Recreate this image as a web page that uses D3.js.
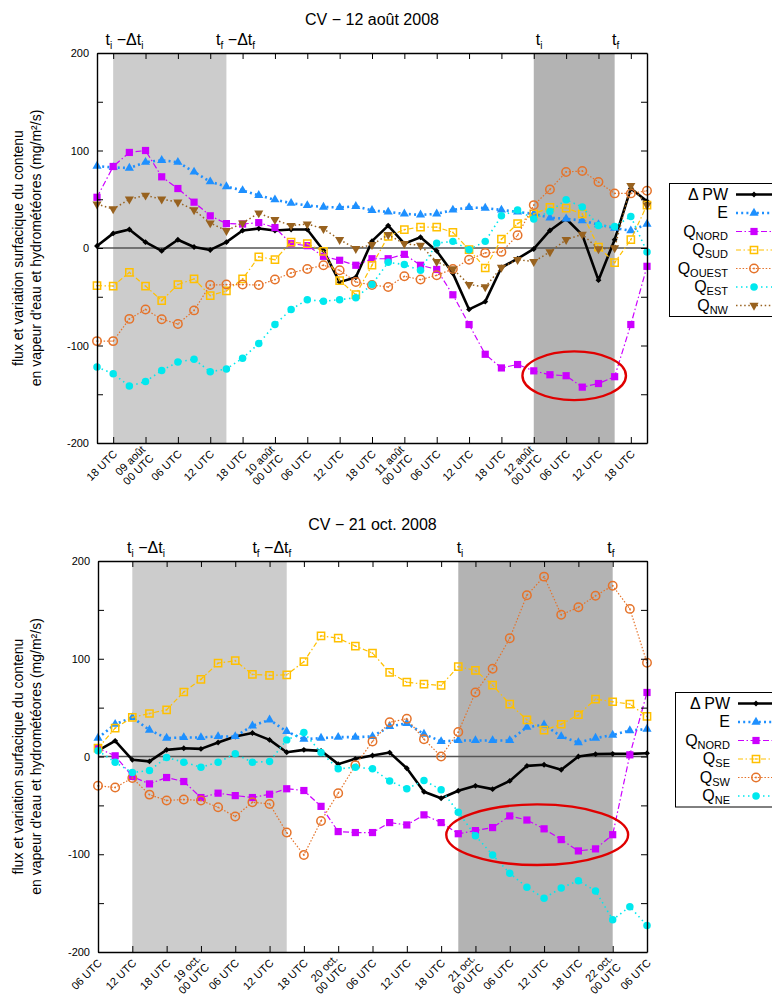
<!DOCTYPE html>
<html>
<head>
<meta charset="utf-8">
<script src="https://cdn.jsdelivr.net/npm/d3@7"></script>
<style>
  body { margin: 0; background: #fff; }
  svg { font-family: "Liberation Sans", Arial, sans-serif; }
</style>
</head>
<body>
<svg width="772" height="996"></svg>
<script>
var svg = d3.select("svg");

// ---- CV 12 août 2008 : une valeur toutes les 3 h, du 8 août 15 UTC au 12 août 21 UTC
var aoutDebut = new Date(Date.UTC(2008, 7, 8, 15));
var aoutFin = new Date(Date.UTC(2008, 7, 12, 21));
var aoutPW = [2, 15, 19, 6, -3, 8.5, 1, -2, 6, 18, 20, 18, 19, 19, -2.5, -35, -30, 7, 23, 4.5, 11, -3, -26, -63, -55, -20, -11, -1, 18, 30, 13.5, -33, 8.5, 61, 48];
var aoutE = [84, 82.6, 82, 88, 90, 88, 78, 68, 63, 59, 54, 49.5, 46, 43.7, 42, 41.6, 42.7, 38.6, 37, 35, 34, 35, 39, 41.6, 41, 39, 37, 35, 31, 30, 28, 24, 20.5, 17.7, 24.6];
var aoutNord = [52, 83.6, 98, 100, 73, 61, 47, 33, 25, 24.6, 26, 21, 4.4, 2.4, -8.5, -12.6, -17.7, -11, -11, -6.5, -17.7, -22, -48, -78.5, -109, -123, -119.5, -126, -130, -131, -142.7, -139, -132, -78.5, -18.8];
var aoutSud = [-38.6, -39, -25, -39, -54, -37.5, -31.7, -48.8, -44, -31.7, -9, -12, 6, 4.4, -3.4, -33.4, -47.8, -17.7, 12, 18.8, 21.5, 21.5, 16, -1.7, -20.5, 9, 25, 35, 41.6, 41, 35, 1, -15, 8.5, 44];
var aoutOuest = [-95.5, -95.5, -72.7, -63, -73, -78, -64, -38, -37.5, -37.5, -38, -32.4, -25.6, -21.5, -17.7, -22.9, -34.8, -38, -40, -29, -32.4, -28, -21.5, -12, -5, -4, 13, 44, 60, 78, 79, 67.6, 56, 56, 58.7];
var aoutEst = [-122, -129, -141.6, -137, -125.6, -117, -114, -127, -124, -113, -98, -78.5, -63, -53, -54.6, -53, -51, -37.5, -14.7, -17, -22.9, 5, 6.8, -1.7, 6.8, 33, 39, 29.7, 37.5, 49.5, 42, 23, 22, 32.4, -4];
var aoutNW = [45, 40, 50, 54, 50, 47, 39, 25.6, 17.7, 25.6, 35.8, 29, 23, 24.6, 19.8, 8.5, -0.7, 3.4, 13.6, 4.4, 2.7, -14, -21.5, -37.5, -40, -20, -12, -14, -4, 8.5, 14, -1, 0, 64, 44];
var aoutNoms = [["Δ PW", ""], ["E", ""], ["Q", "NORD"], ["Q", "SUD"], ["Q", "OUEST"], ["Q", "EST"], ["Q", "NW"]];
var aoutMois = "août";
var aoutClair = [new Date(Date.UTC(2008, 7, 8, 18)), new Date(Date.UTC(2008, 7, 9, 15))];
var aoutFonce = [new Date(Date.UTC(2008, 7, 12, 0)), new Date(Date.UTC(2008, 7, 12, 15))];
var aoutReperes = [5.1, 25.7, 82, 96.2]; // heures depuis le début
var aoutEllipse = [88.5, -131, 9.6, 25]; // centre (h, valeur), rayons (h, valeur)

// ---- CV 21 oct. 2008 : du 18 oct. 06 UTC au 22 oct. 06 UTC
var octDebut = new Date(Date.UTC(2008, 9, 18, 6));
var octFin = new Date(Date.UTC(2008, 9, 22, 6));
var octPW = [6, 16, -3.4, -5, 6.8, 8.5, 7.8, 14.3, 20.5, 24, 17, 4.4, 6.8, 5.8, -7.8, -2.4, 1, 4, -12, -36, -42.7, -35, -30, -33.4, -25, -9.6, -8.5, -13.6, 0, 2.4, 2.7, 2.7, 3.4];
var octE = [18.8, 33, 40, 27, 18.8, 19.5, 19.5, 20.5, 20.5, 31.4, 37.5, 25.6, 17.7, 18.8, 19.8, 19.8, 20.5, 30.7, 34, 23, 15.4, 16.4, 16.4, 16.4, 16.4, 30, 32.4, 20.5, 14.3, 18.8, 22, 26.6, 28];
var octNord = [8.5, 0.7, -20.5, -28, -21.5, -25.6, -42, -37.5, -40, -42, -38.6, -33, -34.8, -51, -76.8, -77.8, -77.8, -67.6, -70, -59.7, -67.6, -79, -75.8, -72.7, -60.8, -65, -74, -85, -96.6, -94.5, -80, 1.7, 65.5];
var octSE = [8.5, 29, 40, 44, 47.8, 66, 79, 95.5, 98, 84, 83, 83.6, 97, 123.5, 121, 113, 105.8, 86, 76, 74, 72.7, 92, 88, 73, 53.6, 37.5, 27, 33, 42.7, 58.7, 56, 53.6, 41];
var octSW = [-30, -31.7, -22, -39, -45, -44, -45, -52, -61.4, -46.8, -48.5, -77.8, -100.7, -66, -37.5, -9, 15.4, 35, 38.6, 17.7, 0, 25, 65.5, 89.8, 121, 165, 184, 145, 152.6, 164.5, 174.7, 151, 96];
var octNE = [6, -6, -16.4, -14.3, -1, -5.8, -11, -5.8, 2.7, -6, -5, 17, 24.6, 4, -12.6, -11, -12.6, -25, -33, -24.6, -34, -57, -81, -100.7, -119.5, -133.8, -145, -134.5, -127, -137.5, -167, -153.6, -173];
var octNoms = [["Δ PW", ""], ["E", ""], ["Q", "NORD"], ["Q", "SE"], ["Q", "SW"], ["Q", "NE"]];
var octMois = "oct.";
var octClair = [new Date(Date.UTC(2008, 9, 18, 12)), new Date(Date.UTC(2008, 9, 19, 15))];
var octFonce = [new Date(Date.UTC(2008, 9, 20, 21)), new Date(Date.UTC(2008, 9, 22, 0))];
var octReperes = [8.4, 30.4, 63.3, 89.7];
var octEllipse = [76.8, -80, 15.9, 31];

var yTicks = [-200, -150, -100, -50, 0, 50, 100, 150, 200];

// styles des courbes, dans l'ordre de la légende
var styles = [
  { color: "#000000", width: 2.6, dash: null, sym: d3.symbolDiamond2, size: 22, open: false },
  { color: "#1e90ff", width: 2.6, dash: "2,3.2", sym: d3.symbolTriangle, size: 36, open: false },
  { color: "#cc00ff", width: 1.2, dash: "6,2.5,1.5,2.5", sym: d3.symbolSquare, size: 52, open: false },
  { color: "#ffc000", width: 1.2, dash: "5,2.5,1.5,2.5", sym: d3.symbolSquare, size: 52, open: true },
  { color: "#e5732a", width: 1.2, dash: "1.5,1.8", sym: d3.symbolCircle, size: 56, open: true },
  { color: "#00e8ee", width: 1.6, dash: "1.5,3.5", sym: d3.symbolCircle, size: 44, open: false },
  { color: "#98621f", width: 1.5, dash: "1.5,2.6", sym: d3.symbolTriangle, size: 36, open: false, flip: true }
];

function dessine(c) {
  var g = svg.append("g");
  var x = d3.scaleUtc().domain([c.debut, c.fin]).range([c.left, c.right]);
  var y = d3.scaleLinear().domain([-200, 200]).range([c.bottom, c.top]);
  var heure = function (h) { return d3.utcMinute.offset(c.debut, Math.round(h * 60)); };

  // zones grisées
  g.append("rect").attr("x", x(c.clair[0])).attr("y", c.top)
    .attr("width", x(c.clair[1]) - x(c.clair[0])).attr("height", c.bottom - c.top).attr("fill", "#cccccc");
  g.append("rect").attr("x", x(c.fonce[0])).attr("y", c.top)
    .attr("width", x(c.fonce[1]) - x(c.fonce[0])).attr("height", c.bottom - c.top).attr("fill", "#b3b3b3");

  // ligne du zéro
  g.append("line").attr("x1", c.left).attr("x2", c.right).attr("y1", y(0)).attr("y2", y(0))
    .attr("stroke", "#555").attr("stroke-width", 1.3);

  // courbes
  c.series.forEach(function (vals, k) {
    var st = styles[k];
    var pts = vals.map(function (v, i) { return [d3.utcHour.offset(c.debut, 3 * i), v]; });
    var line = d3.line().x(function (d) { return x(d[0]); }).y(function (d) { return y(d[1]); });
    g.append("path").datum(pts).attr("d", line).attr("fill", "none")
      .attr("stroke", st.color).attr("stroke-width", st.width)
      .attr("stroke-dasharray", st.dash).attr("stroke-linejoin", "round");
    pts.forEach(function (d) {
      marqueur(g, st, x(d[0]), y(d[1]));
    });
  });

  // ellipse rouge
  var e = c.ellipse;
  g.append("ellipse").attr("cx", x(heure(e[0]))).attr("cy", y(e[1]))
    .attr("rx", x(heure(e[0] + e[2])) - x(heure(e[0]))).attr("ry", y(e[1] - e[3]) - y(e[1]))
    .attr("fill", "none").attr("stroke", "#e00000").attr("stroke-width", 2.4);

  // axes (graduations vers l'intérieur, sur les quatre côtés)
  var xTicks = d3.utcHour.every(6).range(c.premierTick, d3.utcHour.offset(c.fin, 1));
  g.append("g").attr("transform", "translate(0," + c.bottom + ")")
    .call(d3.axisBottom(x).tickValues(xTicks).tickSize(-6).tickSizeOuter(0).tickFormat(""));
  g.append("g").attr("transform", "translate(0," + c.top + ")")
    .call(d3.axisTop(x).tickValues(xTicks).tickSize(-6).tickSizeOuter(0).tickFormat(""));
  g.append("g").attr("transform", "translate(" + c.left + ",0)")
    .call(d3.axisLeft(y).tickValues(yTicks).tickSize(-6).tickSizeOuter(0).tickPadding(8)
      .tickFormat(function (d) { return d % 100 === 0 ? d : ""; }));
  g.append("g").attr("transform", "translate(" + c.right + ",0)")
    .call(d3.axisRight(y).tickValues(yTicks).tickSize(-6).tickSizeOuter(0).tickFormat(""));
  g.selectAll(".domain").attr("stroke", "#000").attr("stroke-width", 1.4);
  g.selectAll(".tick line").attr("stroke", "#000").attr("stroke-width", 1);
  g.selectAll(".tick text").attr("font-size", 11).attr("font-family", "Liberation Sans, Arial, sans-serif").attr("fill", "#000");

  // étiquettes de l'axe des temps, inclinées
  var fmtH = d3.utcFormat("%H"), fmtJ = d3.utcFormat("%d");
  xTicks.forEach(function (t) {
    var tx = g.append("text").attr("font-size", 11).attr("text-anchor", "end")
      .attr("transform", "translate(" + (x(t) + 2) + "," + (c.bottom + 9) + ") rotate(-45)");
    if (t.getUTCHours() === 0) {
      tx.append("tspan").attr("x", 0).attr("y", "-0.22em").text(fmtJ(t) + " " + c.mois);
      tx.append("tspan").attr("x", 0).attr("y", "0.88em").text("00 UTC");
    } else {
      tx.append("tspan").attr("x", 0).attr("y", "0.35em").text(fmtH(t) + " UTC");
    }
  });

  // titre
  g.append("text").attr("x", (c.left + c.right) / 2).attr("y", c.titreY)
    .attr("text-anchor", "middle").attr("font-size", 16).text(c.titre);

  // titre de l'axe vertical
  var cy = (c.top + c.bottom) / 2;
  g.append("text").attr("transform", "translate(23," + cy + ") rotate(-90)")
    .attr("text-anchor", "middle").attr("font-size", 14).text("flux et variation surfacique du contenu");
  g.append("text").attr("transform", "translate(41," + cy + ") rotate(-90)")
    .attr("text-anchor", "middle").attr("font-size", 14).text("en vapeur d'eau et hydrométéores (mg/m²/s)");

  // repères t_i, t_f
  var reps = [["i", true], ["f", true], ["i", false], ["f", false]];
  reps.forEach(function (r, k) {
    var t = g.append("text").attr("x", x(heure(c.reperes[k]))).attr("y", c.top - 8)
      .attr("text-anchor", "middle").attr("font-size", 16);
    t.append("tspan").text("t");
    t.append("tspan").attr("font-size", 10).attr("dy", 4).text(r[0]);
    if (r[1]) {
      t.append("tspan").attr("dy", -4).text(" \u2212\u0394t");
      t.append("tspan").attr("font-size", 10).attr("dy", 4).text(r[0]);
    }
  });

  // légende
  var L = c.legende;
  var n = c.noms.length;
  g.append("rect").attr("x", L.x).attr("y", L.y).attr("width", 140).attr("height", L.pas * (n - 1) + 22)
    .attr("fill", "#fff").attr("stroke", "#000").attr("stroke-width", 1);
  c.noms.forEach(function (nm, k) {
    var ry = L.y + 11 + k * L.pas;
    var st = styles[k];
    var t = g.append("text").attr("x", L.texte).attr("y", ry + 5).attr("text-anchor", "end").attr("font-size", 16);
    t.append("tspan").text(nm[0]);
    if (nm[1]) t.append("tspan").attr("font-size", 11).attr("dy", 3).text(nm[1]);
    g.append("line").attr("x1", L.texte + 8).attr("x2", L.texte + 46).attr("y1", ry).attr("y2", ry)
      .attr("stroke", st.color).attr("stroke-width", st.width).attr("stroke-dasharray", st.dash);
    marqueur(g, st, L.texte + 26, ry);
  });
}

function marqueur(g, st, px, py) {
  var p = g.append("path").attr("d", d3.symbol().type(st.sym).size(st.size)())
    .attr("transform", "translate(" + px + "," + py + ")" + (st.flip ? " rotate(180)" : ""));
  if (st.open) {
    p.attr("fill", "none").attr("stroke", st.color).attr("stroke-width", 1.5);
    g.append("circle").attr("cx", px).attr("cy", py).attr("r", 0.9).attr("fill", st.color);
  } else {
    p.attr("fill", st.color);
  }
}

dessine({
  titre: "CV \u2212 12 août 2008", titreY: 25, mois: aoutMois,
  debut: aoutDebut, fin: aoutFin, premierTick: new Date(Date.UTC(2008, 7, 8, 18)),
  left: 97, right: 647, top: 53, bottom: 443,
  series: [aoutPW, aoutE, aoutNord, aoutSud, aoutOuest, aoutEst, aoutNW],
  noms: aoutNoms, clair: aoutClair, fonce: aoutFonce, reperes: aoutReperes, ellipse: aoutEllipse,
  legende: { x: 669.5, y: 183.5, pas: 18.5, texte: 728 }
});

dessine({
  titre: "CV \u2212 21 oct. 2008", titreY: 530, mois: octMois,
  debut: octDebut, fin: octFin, premierTick: octDebut,
  left: 98, right: 647, top: 561, bottom: 952,
  series: [octPW, octE, octNord, octSE, octSW, octNE],
  noms: octNoms, clair: octClair, fonce: octFonce, reperes: octReperes, ellipse: octEllipse,
  legende: { x: 675.5, y: 692.5, pas: 18.5, texte: 730 }
});
</script>
</body>
</html>
